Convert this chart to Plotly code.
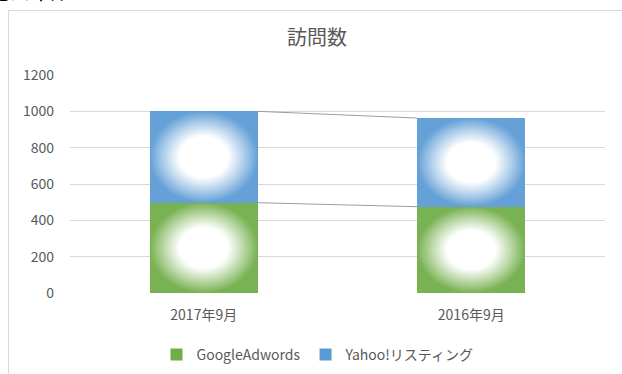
import plotly.graph_objects as go

# Visits by channel, September of each year
categories = ["2017年9月", "2016年9月"]
google_visits = [497, 475]
yahoo_visits = [503, 488]
series_names = ["GoogleAdwords", "Yahoo!リスティング"]
series_colors = ["#70AD47", "#5B9BD5"]
y_ticks = [0, 200, 400, 600, 800, 1000, 1200]

FONT = "Noto Sans CJK JP"
TEXT = "#595959"
BAR_W = 0.404

x_pos = list(range(len(categories)))
series = [google_visits, yahoo_visits]

fig = go.Figure()

# stacked bars
for name, vals, col in zip(series_names, series, series_colors):
    fig.add_trace(go.Bar(x=x_pos, y=vals, name=name, width=BAR_W,
                         marker=dict(color=col, line=dict(width=0)),
                         hoverinfo="y+name"))

# white radial glow over each bar segment
base = [0] * len(categories)
for vals in series:
    for i, v in enumerate(vals):
        x0, x1 = x_pos[i] - BAR_W / 2, x_pos[i] + BAR_W / 2
        y0, y1 = base[i], base[i] + v
        fig.add_trace(go.Scatter(
            x=[x0, x1, x1, x0, x0], y=[y0, y0, y1, y1, y0],
            mode="lines", fill="toself", line=dict(width=0),
            fillgradient=dict(type="radial", colorscale=[
                [0, "rgba(255,255,255,1)"], [0.45, "rgba(255,255,255,1)"],
                [0.72, "rgba(255,255,255,0.55)"], [1, "rgba(255,255,255,0.06)"]]),
            showlegend=False, hoverinfo="skip"))
    base = [b + v for b, v in zip(base, vals)]

# series lines joining the stacks
level = [0] * len(categories)
for vals in series:
    level = [l + v for l, v in zip(level, vals)]
    for i in range(len(categories) - 1):
        fig.add_trace(go.Scatter(
            x=[x_pos[i] + BAR_W / 2, x_pos[i + 1] - BAR_W / 2],
            y=[level[i], level[i + 1]], mode="lines",
            line=dict(color="#9C9C9C", width=1),
            showlegend=False, hoverinfo="skip"))

W, H = 622, 374
ml, mr, mt, mb = 70, 17, 75, 81
pw, ph = W - ml - mr, H - mt - mb

def px_x(p):
    return (p - ml) / pw

def px_y(p):
    return (H - mb - p) / ph

fig.update_layout(
    width=W, height=H,
    margin=dict(l=ml, r=mr, t=mt, b=mb, autoexpand=False),
    paper_bgcolor="white", plot_bgcolor="white",
    barmode="stack",
    font=dict(family=FONT, color=TEXT, size=14),
    title=dict(text="訪問数", x=317 / W, xanchor="center", xref="container",
               y=1 - 38 / H, yanchor="middle", yref="container",
               font=dict(size=20, color=TEXT, family=FONT)),
    xaxis=dict(range=[-0.5, len(categories) - 0.5], tickvals=x_pos,
               ticktext=categories, showgrid=False, zeroline=False,
               showline=False, ticks="", ticklabelstandoff=12,
               tickfont=dict(size=14, color=TEXT), fixedrange=True),
    yaxis=dict(range=[0, 1200], tickvals=y_ticks, showgrid=True,
               gridcolor="#D9D9D9", gridwidth=1, zeroline=False,
               showline=False, ticks="", ticklabelstandoff=15,
               tickfont=dict(size=14, color=TEXT), fixedrange=True),
    legend=dict(orientation="h", x=px_x(318), xanchor="center",
                y=px_y(355), yanchor="middle",
                font=dict(size=14, color=TEXT, family=FONT),
                itemwidth=30, traceorder="normal"),
    shapes=[dict(type="rect", xref="paper", yref="paper",
                 x0=px_x(8.5), x1=px_x(640), y0=px_y(400), y1=px_y(10.5),
                 line=dict(color="#D9D9D9", width=1), layer="below")],
    annotations=[dict(text="モバイル", xref="paper", yref="paper",
                      x=px_x(-12), y=px_y(9), xanchor="left", yanchor="bottom",
                      showarrow=False, font=dict(size=20, color="#000000",
                                                 family=FONT))],
)

fig.write_html("out.html")
